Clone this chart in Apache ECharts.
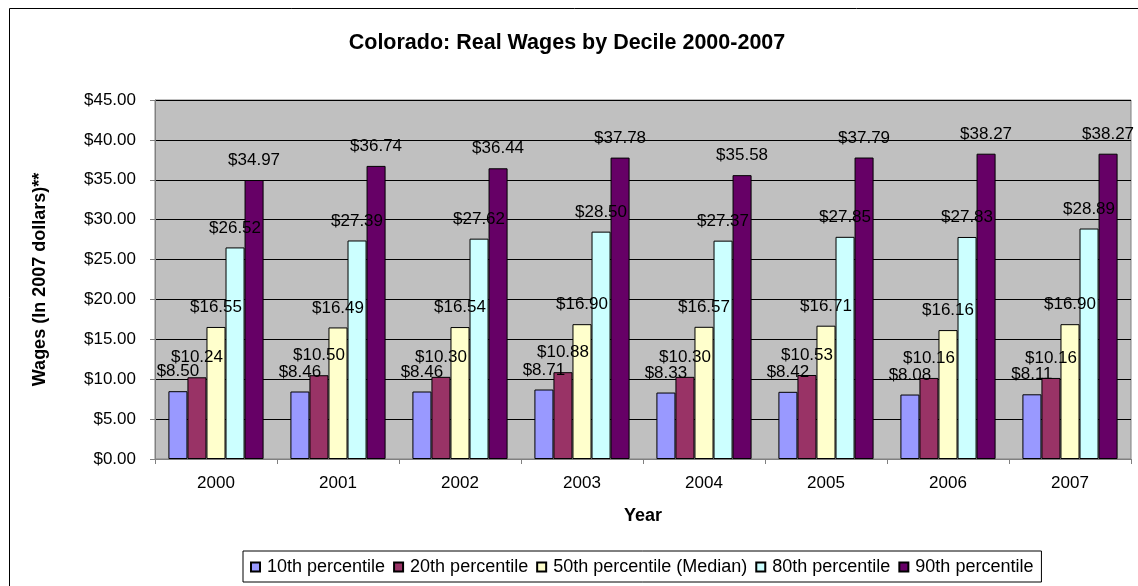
<!DOCTYPE html>
<html>
<head>
<meta charset="utf-8">
<title>Colorado: Real Wages by Decile 2000-2007</title>
<script src="https://cdn.jsdelivr.net/npm/echarts@6/dist/echarts.min.js"></script>
<style>
  html, body { margin: 0; padding: 0; background: #fff; }
  #chart { width: 1138px; height: 586px; }
</style>
</head>
<body>
<div id="chart"></div>
<script>
  // data
  var years = ["2000", "2001", "2002", "2003", "2004", "2005", "2006", "2007"];
  var p10 = [8.50, 8.46, 8.46, 8.71, 8.33, 8.42, 8.08, 8.11];
  var p20 = [10.24, 10.50, 10.30, 10.88, 10.30, 10.53, 10.16, 10.16];
  var p50 = [16.55, 16.49, 16.54, 16.90, 16.57, 16.71, 16.16, 16.90];
  var p80 = [26.52, 27.39, 27.62, 28.50, 27.37, 27.85, 27.83, 28.89];
  var p90 = [34.97, 36.74, 36.44, 37.78, 35.58, 37.79, 38.27, 38.27];

  var seriesNames = ["10th percentile", "20th percentile", "50th percentile (Median)", "80th percentile", "90th percentile"];
  var seriesData = [p10, p20, p50, p80, p90];
  var colors = ["#9999FF", "#993366", "#FFFFCC", "#CCFFFF", "#660066"];

  var FONT = "Liberation Sans, Arial, sans-serif";

  function money(v) { return "$" + Number(v).toFixed(2); }

  var chart = echarts.init(document.getElementById("chart"));

  chart.setOption({
    animation: false,
    textStyle: { fontFamily: FONT, color: "#000" },
    title: {
      text: "Colorado: Real Wages by Decile 2000-2007",
      left: 562, textAlign: "center", top: 27,
      textStyle: { fontFamily: FONT, fontSize: 21.5, fontWeight: "bold", color: "#000" }
    },
    graphic: [{
      type: "rect", left: 7, top: 6, silent: true,
      shape: { width: 1140, height: 600 },
      style: { fill: "none", stroke: "#000", lineWidth: 1 }
    }],
    legend: {
      left: 243, top: 551,
      padding: [7, 8, 6, 7],
      backgroundColor: "#fff",
      borderColor: "#000", borderWidth: 1,
      itemWidth: 9, itemHeight: 9, itemGap: 8,
      icon: "rect",
      textStyle: { fontFamily: FONT, fontSize: 18, color: "#000", padding: [0, 0, 0, 2] },
      data: seriesNames
    },
    grid: { left: 155, right: 7, top: 100, bottom: 127, show: true, backgroundColor: "#C0C0C0", borderColor: "#808080", borderWidth: 1 },
    xAxis: {
      type: "category", data: years,
      name: "Year", nameLocation: "middle", nameGap: 48,
      nameTextStyle: { fontFamily: FONT, fontSize: 18, fontWeight: "bold", color: "#000" },
      axisLine: { lineStyle: { color: "#808080" } },
      axisTick: { show: true, length: 5, lineStyle: { color: "#808080" } },
      axisLabel: { fontFamily: FONT, fontSize: 17, color: "#000", margin: 16 }
    },
    yAxis: {
      type: "value", min: 0, max: 45, interval: 5,
      name: "Wages (In 2007 dollars)**", nameLocation: "middle", nameGap: 106,
      nameTextStyle: { fontFamily: FONT, fontSize: 18, fontWeight: "bold", color: "#000" },
      axisLine: { show: true, lineStyle: { color: "#808080" } },
      axisTick: { show: true, length: 5, lineStyle: { color: "#808080" } },
      axisLabel: { fontFamily: FONT, fontSize: 17, color: "#000", margin: 19, formatter: money },
      splitLine: { lineStyle: { color: "#000", width: 1 } }
    },
    series: seriesNames.map(function (n, i) {
      return {
        name: n, type: "bar", data: seriesData[i],
        barGap: "0%", barCategoryGap: "22%",
        itemStyle: { color: colors[i], borderColor: "#000", borderWidth: 1 },
        label: {
          show: true, position: "top", distance: 11,
          fontFamily: FONT, fontSize: 17, color: "#000",
          formatter: function (p) { return money(p.value); }
        }
      };
    })
  });
</script>
</body>
</html>
